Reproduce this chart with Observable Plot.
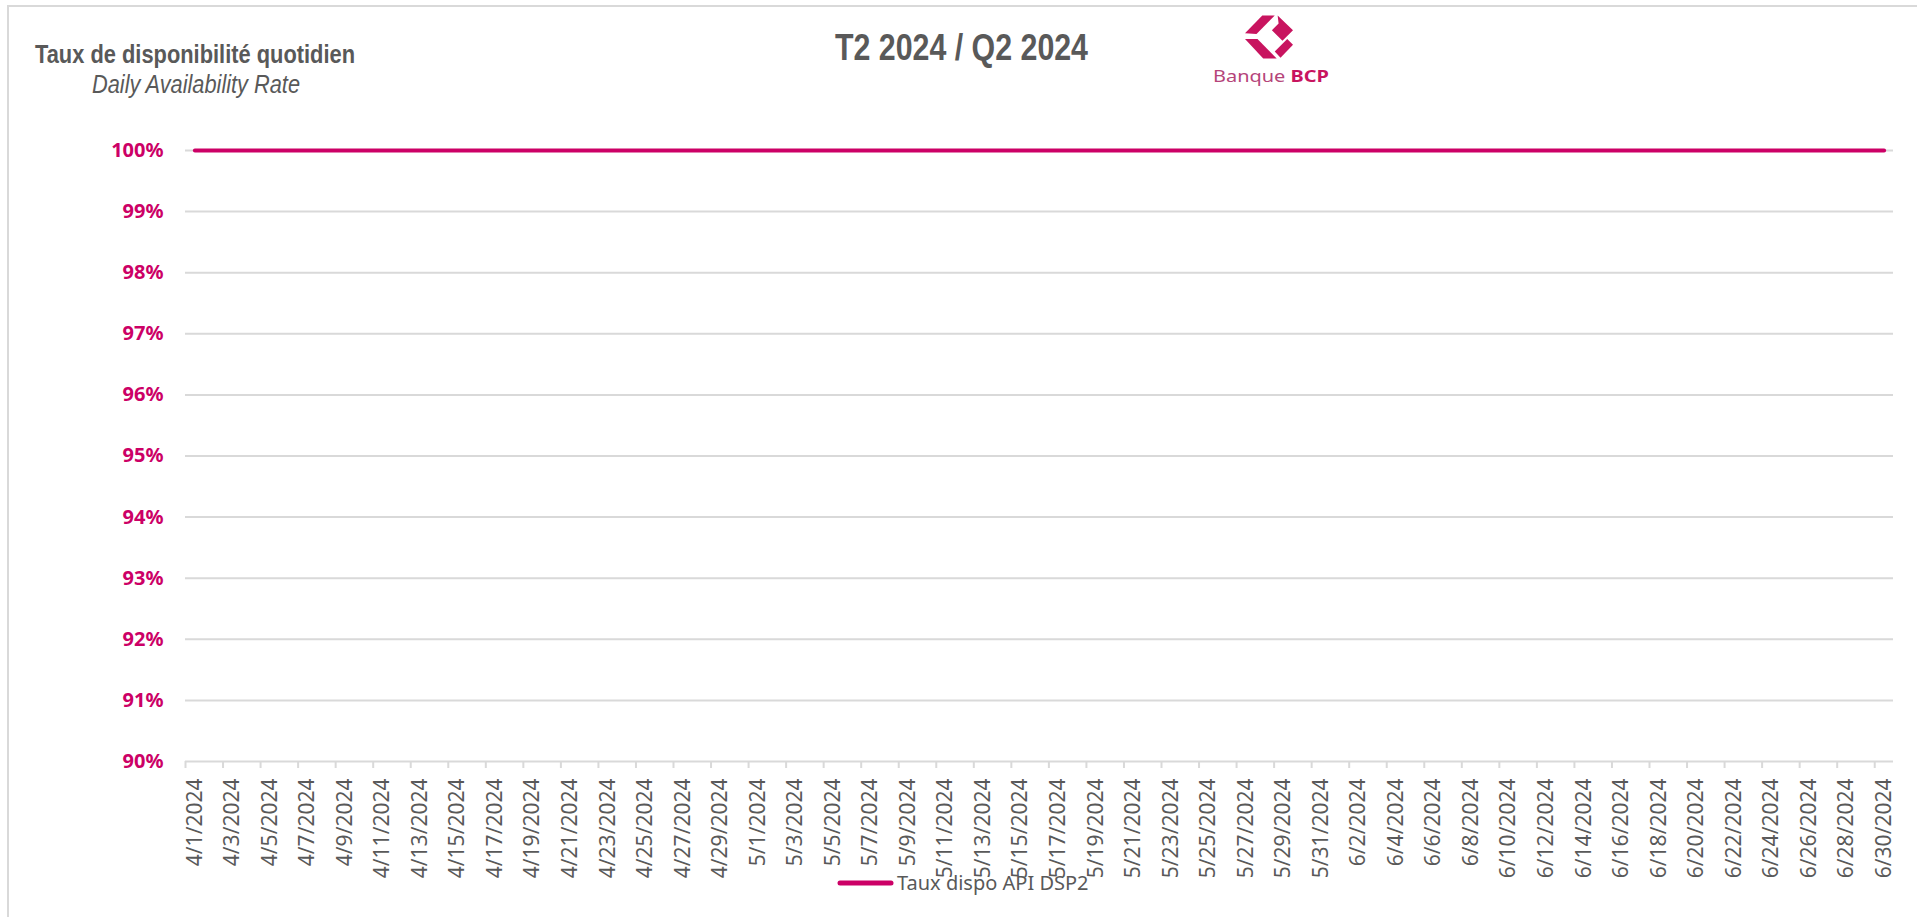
<!DOCTYPE html>
<html>
<head>
<meta charset="utf-8">
<script src="https://cdn.jsdelivr.net/npm/d3@7"></script>
<script src="https://cdn.jsdelivr.net/npm/@observablehq/plot@0.6"></script>
<style>
  html, body { margin: 0; padding: 0; background: #fff; }
  #wrap { position: relative; width: 1917px; height: 917px; overflow: hidden; background: #fff; }
  #frame { position: absolute; left: 7px; top: 5px; width: 1920px; height: 920px; border-left: 2px solid #d9d9d9; border-top: 2px solid #d9d9d9; box-sizing: border-box; }
  #chart { position: absolute; left: 0; top: 0; }
  #overlay { position: absolute; left: 0; top: 0; pointer-events: none; }
</style>
</head>
<body>
<div id="wrap">
  <div id="frame"></div>
  <div id="chart"></div>
  <svg id="overlay" width="1917" height="917" xmlns="http://www.w3.org/2000/svg">
    <text x="35" y="63" textLength="320" lengthAdjust="spacingAndGlyphs" font-family="'Liberation Sans',Arial,sans-serif" font-weight="bold" font-size="26" fill="#595959">Taux de disponibilité quotidien</text>
    <text x="92" y="93" textLength="208" lengthAdjust="spacingAndGlyphs" font-family="'Liberation Sans',Arial,sans-serif" font-style="italic" font-size="26" fill="#595959">Daily Availability Rate</text>
    <text x="835" y="60" textLength="253" lengthAdjust="spacingAndGlyphs" font-family="'Liberation Sans',Arial,sans-serif" font-weight="bold" font-size="37" fill="#595959">T2 2024 / Q2 2024</text>
    <g transform="translate(1245,13) scale(0.48)" fill="#c8145f">
      <polygon points="0,42 36,5 62,5 24,44"/>
      <polygon points="68,5 100,36 78,58 56,36 70,22"/>
      <polygon points="0,54 26,54 66,95 38,95"/>
      <polygon points="74,93 100,66 88,54 62,80"/>
    </g>
    <text x="1213" y="82" textLength="116" lengthAdjust="spacingAndGlyphs" font-family="'Noto Sans',sans-serif" font-size="16" fill="#b5447a"><tspan>Banque </tspan><tspan font-weight="bold" fill="#c8145f">BCP</tspan></text>
    <line x1="840" y1="883" x2="891" y2="883" stroke="#cc0066" stroke-width="5" stroke-linecap="round"/>
    <text x="897" y="890" font-family="'Noto Sans',sans-serif" font-size="20" fill="#595959">Taux dispo API DSP2</text>
  </svg>
</div>
<script>
// ---- Data ----
const dates = [
  "2024-04-01","2024-04-02","2024-04-03","2024-04-04","2024-04-05","2024-04-06","2024-04-07","2024-04-08","2024-04-09","2024-04-10",
  "2024-04-11","2024-04-12","2024-04-13","2024-04-14","2024-04-15","2024-04-16","2024-04-17","2024-04-18","2024-04-19","2024-04-20",
  "2024-04-21","2024-04-22","2024-04-23","2024-04-24","2024-04-25","2024-04-26","2024-04-27","2024-04-28","2024-04-29","2024-04-30",
  "2024-05-01","2024-05-02","2024-05-03","2024-05-04","2024-05-05","2024-05-06","2024-05-07","2024-05-08","2024-05-09","2024-05-10",
  "2024-05-11","2024-05-12","2024-05-13","2024-05-14","2024-05-15","2024-05-16","2024-05-17","2024-05-18","2024-05-19","2024-05-20",
  "2024-05-21","2024-05-22","2024-05-23","2024-05-24","2024-05-25","2024-05-26","2024-05-27","2024-05-28","2024-05-29","2024-05-30",
  "2024-05-31","2024-06-01","2024-06-02","2024-06-03","2024-06-04","2024-06-05","2024-06-06","2024-06-07","2024-06-08","2024-06-09",
  "2024-06-10","2024-06-11","2024-06-12","2024-06-13","2024-06-14","2024-06-15","2024-06-16","2024-06-17","2024-06-18","2024-06-19",
  "2024-06-20","2024-06-21","2024-06-22","2024-06-23","2024-06-24","2024-06-25","2024-06-26","2024-06-27","2024-06-28","2024-06-29",
  "2024-06-30"
];
const availability = [
  1.00,1.00,1.00,1.00,1.00,1.00,1.00,1.00,1.00,1.00,
  1.00,1.00,1.00,1.00,1.00,1.00,1.00,1.00,1.00,1.00,
  1.00,1.00,1.00,1.00,1.00,1.00,1.00,1.00,1.00,1.00,
  1.00,1.00,1.00,1.00,1.00,1.00,1.00,1.00,1.00,1.00,
  1.00,1.00,1.00,1.00,1.00,1.00,1.00,1.00,1.00,1.00,
  1.00,1.00,1.00,1.00,1.00,1.00,1.00,1.00,1.00,1.00,
  1.00,1.00,1.00,1.00,1.00,1.00,1.00,1.00,1.00,1.00,
  1.00,1.00,1.00,1.00,1.00,1.00,1.00,1.00,1.00,1.00,
  1.00,1.00,1.00,1.00,1.00,1.00,1.00,1.00,1.00,1.00,
  1.00
];
const seriesName = "Taux dispo API DSP2";
const xTickLabels = [
  "4/1/2024","4/3/2024","4/5/2024","4/7/2024","4/9/2024","4/11/2024","4/13/2024","4/15/2024","4/17/2024","4/19/2024",
  "4/21/2024","4/23/2024","4/25/2024","4/27/2024","4/29/2024","5/1/2024","5/3/2024","5/5/2024","5/7/2024","5/9/2024",
  "5/11/2024","5/13/2024","5/15/2024","5/17/2024","5/19/2024","5/21/2024","5/23/2024","5/25/2024","5/27/2024","5/29/2024",
  "5/31/2024","6/2/2024","6/4/2024","6/6/2024","6/8/2024","6/10/2024","6/12/2024","6/14/2024","6/16/2024","6/18/2024",
  "6/20/2024","6/22/2024","6/24/2024","6/26/2024","6/28/2024","6/30/2024"
];
const yTicks = [0.90, 0.91, 0.92, 0.93, 0.94, 0.95, 0.96, 0.97, 0.98, 0.99, 1.00];
const yTickLabels = ["90%","91%","92%","93%","94%","95%","96%","97%","98%","99%","100%"];

// ---- Build tables ----
const HALF_DAY = 12 * 3600 * 1000;
const table = dates.map((d, i) => ({date: new Date(d + "T00:00:00Z"), value: availability[i], series: seriesName}));
const parseLabel = s => { const [m, d, y] = s.split("/").map(Number); return new Date(Date.UTC(y, m - 1, d)); };
const labelDates = xTickLabels.map(parseLabel);
const labelMap = new Map(labelDates.map((d, i) => [+d, xTickLabels[i]]));
const boundaryTicks = labelDates.map(d => new Date(+d - HALF_DAY));
const yMap = new Map(yTicks.map((v, i) => [Math.round(v * 100), yTickLabels[i]]));
const xDomain = [new Date(+table[0].date - HALF_DAY), new Date(+table[table.length - 1].date + HALF_DAY)];

const chart = Plot.plot({
  width: 1917,
  height: 917,
  marginLeft: 185,
  marginRight: 24,
  marginTop: 150,
  marginBottom: 156,
  x: {type: "utc", domain: xDomain},
  y: {domain: [yTicks[0], yTicks[yTicks.length - 1]]},
  style: {fontFamily: "'Noto Sans', sans-serif", background: "transparent", overflow: "visible"},
  marks: [
    Plot.gridY(yTicks, {stroke: "#d9d9d9", strokeOpacity: 1, strokeWidth: 2}),
    Plot.axisY(yTicks, {tickSize: 0, tickPadding: 22, tickFormat: d => yMap.get(Math.round(d * 100)), fill: "#cc0066", fontWeight: "bold", fontSize: 20, label: null}),
    Plot.axisX(boundaryTicks, {tickSize: 7, tickFormat: () => "", stroke: "#d9d9d9", strokeWidth: 2, strokeOpacity: 1, label: null}),
    Plot.axisX(labelDates, {tickSize: 0, tickPadding: 17, tickRotate: -90, tickFormat: d => labelMap.get(+d), fill: "#595959", fontSize: 21, label: null}),
    Plot.line(table, {x: "date", y: "value", stroke: "#cc0066", strokeWidth: 4})
  ]
});
document.getElementById("chart").appendChild(chart);
</script>
</body>
</html>
